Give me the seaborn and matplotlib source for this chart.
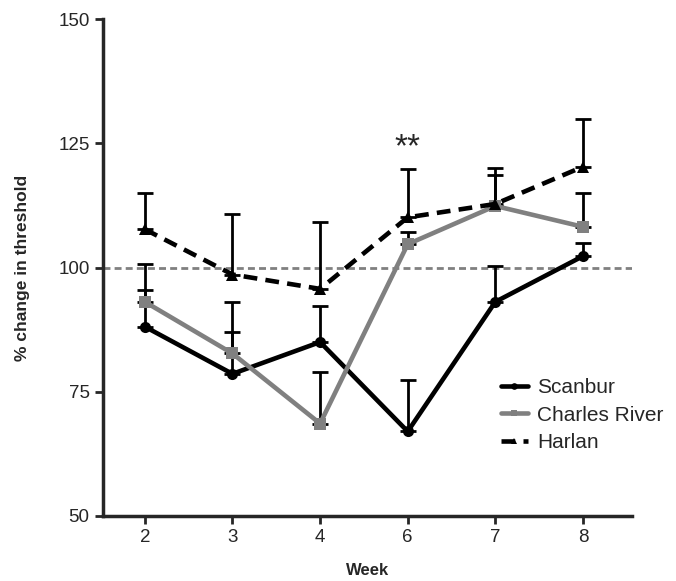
import numpy as np
import pandas as pd
import matplotlib
matplotlib.use("Agg")
import matplotlib.pyplot as plt
import seaborn as sns

# --------- data
weeks = ["2", "3", "4", "6", "7", "8"]
scanbur = [88.1, 78.6, 85.0, 67.0, 93.1, 102.3]
scanbur_sem = [7.4, 14.5, 7.3, 10.4, 7.2, 2.6]
charles = [93.1, 82.7, 68.6, 104.7, 112.4, 108.2]
charles_sem = [7.6, 4.3, 10.3, 2.5, 6.2, 6.8]
harlan = [107.7, 98.6, 95.7, 110.1, 112.8, 120.3]
harlan_sem = [7.4, 12.2, 13.4, 9.7, 7.2, 9.7]
strains = ["Scanbur", "Charles River", "Harlan"]
signif_week = "6"

df = pd.DataFrame({
    "Week": weeks * 3,
    "value": scanbur + charles + harlan,
    "strain": [s for s in strains for _ in weeks],
})

sns.set_style("ticks")
plt.rcParams["font.family"] = ["Liberation Sans", "DejaVu Sans"]

fig = plt.figure(figsize=(6.76, 5.81), dpi=100)
ax = fig.add_axes([0.152, 0.112, 0.783, 0.855])

palette = {"Scanbur": "black", "Charles River": "#808080", "Harlan": "black"}
dashes = {"Scanbur": "", "Charles River": "", "Harlan": (3.0, 1.8)}
markers = {"Scanbur": "o", "Charles River": "s", "Harlan": "^"}

# upper-only error bars (SEM), drawn first
for vals, sem in [(scanbur, scanbur_sem), (charles, charles_sem), (harlan, harlan_sem)]:
    ax.errorbar(weeks, vals, yerr=[np.zeros(len(sem)), sem], fmt="none",
                ecolor="black", elinewidth=2, capsize=6, capthick=2, zorder=2)

sns.lineplot(data=df, x="Week", y="value", hue="strain", style="strain",
             palette=palette, dashes=dashes, markers=markers, markersize=8,
             markeredgewidth=0, linewidth=3.3, sort=False, ax=ax, zorder=3)

ax.axhline(100, color="#808080", linestyle=(0, (2.5, 1.5)), linewidth=2, zorder=1)

ax.text(weeks.index(signif_week), 121, "**", ha="center", va="bottom", fontsize=24)

ax.set_ylim(50, 150)
ax.set_yticks([50, 75, 100, 125, 150])
ax.set_xlim(-0.48, 5.56)
ax.set_xlabel("Week", fontsize=12, fontweight="bold", labelpad=12)
ax.set_ylabel("% change in threshold", fontsize=12.5, fontweight="bold", labelpad=20)
ax.tick_params(labelsize=13.5, width=2, length=6)
for side in ["left", "bottom"]:
    ax.spines[side].set_linewidth(2.5)
sns.despine(ax=ax)

ax.legend(title=None, frameon=False, fontsize=15, loc="lower right",
          bbox_to_anchor=(1.095, 0.09), handlelength=1.3, handletextpad=0.45,
          labelspacing=0.42, markerscale=0.6)

fig.savefig("out.png", dpi=100)
